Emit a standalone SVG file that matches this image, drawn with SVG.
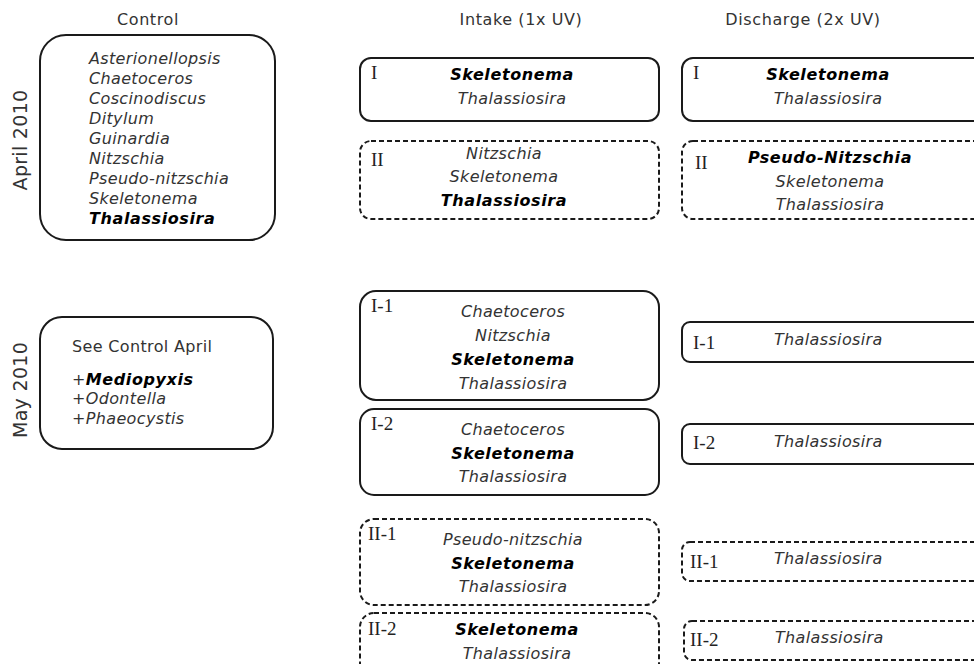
<svg xmlns="http://www.w3.org/2000/svg" width="974" height="664" viewBox="0 0 974 664">
<style>
.box{fill:#fff;stroke:#1a1a1a;stroke-width:2}
.dash{stroke-dasharray:5 3}
.t{font-family:"DejaVu Sans",Verdana,sans-serif;font-size:16px;letter-spacing:0.35px;fill:#333}
.i{font-style:italic}
.b{font-weight:bold;fill:#000;letter-spacing:0.6px}
.c{text-anchor:middle}
.r{font-family:"Liberation Serif","Times New Roman",serif;font-size:19px;fill:#222}
.h{font-family:"DejaVu Sans",Verdana,sans-serif;font-size:16px;letter-spacing:0.6px;fill:#333;text-anchor:middle}
.v{font-size:19px;letter-spacing:0.3px}
</style>
<rect width="974" height="664" fill="#fff"/>
<g id="headers">
<text class="h" x="148" y="25">Control</text>
<text class="h" x="521" y="25">Intake (1x UV)</text>
<text class="h" x="803" y="25">Discharge (2x UV)</text>
<text class="h v" transform="translate(27,140) rotate(-90)">April 2010</text>
<text class="h v" transform="translate(27,390) rotate(-90)">May 2010</text>
</g>
<g id="control-april">
<rect class="box" x="40" y="35" width="235" height="205" rx="26"/>
<text class="t i" x="89" y="64">Asterionellopsis</text>
<text class="t i" x="89" y="84">Chaetoceros</text>
<text class="t i" x="89" y="104">Coscinodiscus</text>
<text class="t i" x="89" y="124">Ditylum</text>
<text class="t i" x="89" y="144">Guinardia</text>
<text class="t i" x="89" y="164">Nitzschia</text>
<text class="t i" x="89" y="184">Pseudo-nitzschia</text>
<text class="t i" x="89" y="204">Skeletonema</text>
<text class="t i b" x="89" y="224">Thalassiosira</text>
</g>
<g id="control-may">
<rect class="box" x="40" y="317" width="233" height="132" rx="22"/>
<text class="t" x="72" y="352">See Control April</text>
<text class="t" x="72" y="385">+<tspan class="i b">Mediopyxis</tspan></text>
<text class="t" x="72" y="404">+<tspan class="i">Odontella</tspan></text>
<text class="t" x="72" y="424">+<tspan class="i">Phaeocystis</tspan></text>
</g>
<g id="intake-apr-I">
<rect class="box" x="360" y="58" width="299" height="63" rx="11"/>
<text class="r" x="371" y="79">I</text>
<text class="t i b c" x="512" y="80">Skeletonema</text>
<text class="t i c" x="512" y="104">Thalassiosira</text>
</g>
<g id="intake-apr-II">
<rect class="box dash" x="360" y="141" width="299" height="78" rx="11"/>
<text class="r" x="371" y="166">II</text>
<text class="t i c" x="504" y="159">Nitzschia</text>
<text class="t i c" x="504" y="182">Skeletonema</text>
<text class="t i b c" x="504" y="206">Thalassiosira</text>
</g>
<g id="discharge-apr-I">
<rect class="box" x="682" y="58" width="310" height="63" rx="11"/>
<text class="r" x="693" y="79">I</text>
<text class="t i b c" x="828" y="80">Skeletonema</text>
<text class="t i c" x="828" y="104">Thalassiosira</text>
</g>
<g id="discharge-apr-II">
<rect class="box dash" x="682" y="141" width="310" height="78" rx="11"/>
<text class="r" x="695" y="169">II</text>
<text class="t i b c" x="830" y="163">Pseudo-Nitzschia</text>
<text class="t i c" x="830" y="187">Skeletonema</text>
<text class="t i c" x="830" y="210">Thalassiosira</text>
</g>
<g id="intake-may-I-1">
<rect class="box" x="360" y="291" width="299" height="109" rx="16"/>
<text class="r" x="371" y="312">I-1</text>
<text class="t i c" x="513" y="317">Chaetoceros</text>
<text class="t i c" x="513" y="341">Nitzschia</text>
<text class="t i b c" x="513" y="365">Skeletonema</text>
<text class="t i c" x="513" y="389">Thalassiosira</text>
</g>
<g id="intake-may-I-2">
<rect class="box" x="360" y="409" width="299" height="86" rx="14"/>
<text class="r" x="371" y="430">I-2</text>
<text class="t i c" x="513" y="435">Chaetoceros</text>
<text class="t i b c" x="513" y="459">Skeletonema</text>
<text class="t i c" x="513" y="482">Thalassiosira</text>
</g>
<g id="intake-may-II-1">
<rect class="box dash" x="360" y="519" width="299" height="86" rx="14"/>
<text class="r" x="368" y="540">II-1</text>
<text class="t i c" x="513" y="545">Pseudo-nitzschia</text>
<text class="t i b c" x="513" y="569">Skeletonema</text>
<text class="t i c" x="513" y="592">Thalassiosira</text>
</g>
<g id="intake-may-II-2">
<rect class="box dash" x="360" y="613" width="299" height="80" rx="14"/>
<text class="r" x="368" y="635">II-2</text>
<text class="t i b c" x="517" y="635">Skeletonema</text>
<text class="t i c" x="517" y="659">Thalassiosira</text>
</g>
<g id="discharge-may-I-1">
<rect class="box" x="682" y="322" width="310" height="40" rx="8"/>
<text class="r" x="693" y="349">I-1</text>
<text class="t i" x="774" y="345">Thalassiosira</text>
</g>
<g id="discharge-may-I-2">
<rect class="box" x="682" y="424" width="310" height="40" rx="8"/>
<text class="r" x="693" y="449">I-2</text>
<text class="t i" x="774" y="447">Thalassiosira</text>
</g>
<g id="discharge-may-II-1">
<rect class="box dash" x="682" y="542" width="310" height="39" rx="8"/>
<text class="r" x="690" y="568">II-1</text>
<text class="t i" x="774" y="564">Thalassiosira</text>
</g>
<g id="discharge-may-II-2">
<rect class="box dash" x="684" y="621" width="310" height="39" rx="8"/>
<text class="r" x="690" y="646">II-2</text>
<text class="t i" x="775" y="643">Thalassiosira</text>
</g>
<g id="connectors"></g>
</svg>
